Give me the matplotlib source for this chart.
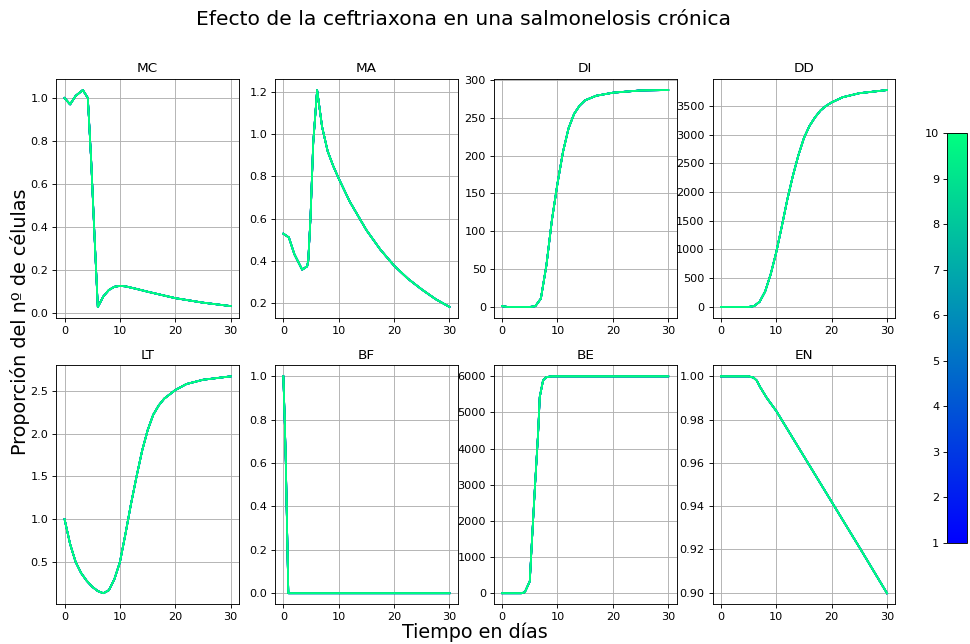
import numpy as np
import matplotlib
matplotlib.use("Agg")
import matplotlib.pyplot as plt
from matplotlib import cm, colors

# valores (tiempo en dias, proporcion)
t_mc = [0, 1, 2, 3.3, 4.2, 4.8, 5.4, 6.0, 6.5, 7, 8, 9, 10, 11, 13, 15, 20, 25, 30]
mc = [1.0, 0.97, 1.01, 1.037, 1.0, 0.71, 0.36, 0.026, 0.05, 0.075, 0.105, 0.12, 0.124, 0.122, 0.11, 0.097, 0.067, 0.046, 0.03]

t_ma = [0, 1, 2, 3.4, 4.3, 4.5, 4.9, 5.4, 6.1, 7, 8, 9, 10, 12, 15, 17.5, 20, 22.5, 25, 27.5, 30]
ma = [0.528, 0.51, 0.43, 0.357, 0.373, 0.4, 0.6, 0.96, 1.21, 1.035, 0.92, 0.85, 0.79, 0.68, 0.545, 0.453, 0.376, 0.314, 0.263, 0.217, 0.18]

t_di = [0, 1, 5, 6, 7, 8, 9, 10, 11, 12, 13, 14, 15, 17, 20, 25, 30]
di = [1, 0, 0, 1, 11, 55, 115, 163, 205, 236, 255, 266, 273, 279, 283, 286, 286.5]

t_dd = [0, 5, 6, 7, 8, 9, 10, 11, 12, 13, 14, 15, 16, 17, 18, 19, 20, 22, 25, 30]
dd = [0, 0, 15, 90, 270, 570, 950, 1400, 1870, 2280, 2640, 2940, 3150, 3300, 3420, 3500, 3560, 3650, 3720, 3775]

t_lt = [0, 1, 2, 3, 4, 5, 6, 7, 8, 9, 10, 11, 12, 13, 14, 15, 16, 17, 18, 19, 20, 22, 25, 30]
lt = [1.0, 0.71, 0.5, 0.37, 0.28, 0.21, 0.16, 0.135, 0.17, 0.3, 0.5, 0.83, 1.18, 1.5, 1.8, 2.04, 2.22, 2.33, 2.41, 2.46, 2.51, 2.58, 2.63, 2.67]

t_bf = [0, 0.25, 0.45, 0.6, 0.75, 0.9, 5, 10, 20, 30]
bf = [1.0, 0.8, 0.6, 0.4, 0.2, 0.0, 0.0, 0.0, 0.0, 0.0]

t_be = [0, 3.5, 4.1, 5.0, 5.3, 5.9, 6.5, 6.8, 7.4, 8.0, 9, 30]
be = [0, 0, 28, 330, 1200, 2860, 4420, 5430, 5890, 5980, 6000, 6000]

t_en = [0, 5, 5.9, 6.5, 7.1, 8.3, 10, 15, 20, 25, 30]
en = [1.0, 1.0, 0.9994, 0.998, 0.995, 0.990, 0.984, 0.963, 0.942, 0.921, 0.8997]

nombres = ["MC", "MA", "DI", "DD", "LT", "BF", "BE", "EN"]
tiempos = [t_mc, t_ma, t_di, t_dd, t_lt, t_bf, t_be, t_en]
series = [mc, ma, di, dd, lt, bf, be, en]
dosis = [1, 2, 3, 4, 5, 6, 7, 8, 9, 10]

DPI = 970 / 12
fig, axs = plt.subplots(2, 4, figsize=(12, 644 / DPI), dpi=DPI)
fig.subplots_adjust(left=0.058, right=0.923, top=0.877, bottom=0.062,
                    wspace=0.197, hspace=0.2)

cmap = cm.winter
norm = colors.Normalize(vmin=1, vmax=10)

for ax, nombre, t, y in zip(axs.flat, nombres, tiempos, series):
    for d in dosis:
        ax.plot(t, y, color=cmap(norm(d)), lw=1.5)
    ax.set_title(nombre)
    ax.set_xticks([0, 10, 20, 30])
    ax.grid(True)

sm = cm.ScalarMappable(norm=norm, cmap=cmap)
cax = fig.add_axes([947 / 970, 1 - 543 / 644, 20 / 970, 410 / 644])
cbar = fig.colorbar(sm, cax=cax, ticks=dosis)
cax.yaxis.set_ticks_position("left")

fig.suptitle("Efecto de la ceftriaxona en una salmonelosis crónica", fontsize=18,
             x=463 / 970, y=0.985)
fig.supxlabel("Tiempo en días", fontsize=17, x=475 / 970, y=0.003)
fig.supylabel("Proporción del nº de células", fontsize=17, x=0.01)

fig.savefig("out.png", dpi=DPI)
